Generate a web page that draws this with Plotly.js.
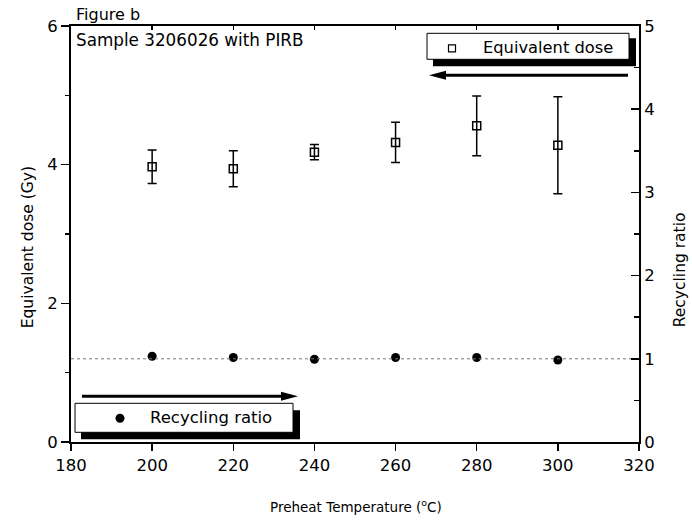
<!DOCTYPE html>
<html>
<head>
<meta charset="utf-8">
<script src="https://cdn.plot.ly/plotly-3.0.1.min.js"></script>
<style>html,body{margin:0;padding:0;background:#fff}#chart{width:692px;height:520px}</style>
</head>
<body>
<div id="chart"></div>
<script>
// ---- data ----
var temperatures = [200, 220, 240, 260, 280, 300];
var equivalentDose = [3.97, 3.94, 4.18, 4.32, 4.56, 4.28];
var doseError = [0.24, 0.26, 0.11, 0.29, 0.43, 0.70];
var recyclingRatio = [1.03, 1.015, 0.995, 1.015, 1.015, 0.985];
var referenceRatio = 1;
var xTicks = [180, 200, 220, 240, 260, 280, 300, 320];
var doseTicks = [0, 2, 4, 6];
var ratioTicks = [0, 1, 2, 3, 4, 5];

var FONT = 'DejaVu Sans, Verdana, sans-serif';
// pixel -> paper helpers for decorations
var L = 71, R = 639, T = 25.7, B = 441.7;
function PX(px) { return (px - L) / (R - L); }
function PY(py) { return (B - py) / (B - T); }
function tri(tipX, baseX, cy, half) {
  return 'M' + PX(tipX) + ',' + PY(cy) + ' L' + PX(baseX) + ',' + PY(cy - half) +
         ' L' + PX(baseX) + ',' + PY(cy + half) + ' Z';
}

var traces = [
  {
    x: temperatures, y: equivalentDose, type: 'scatter', mode: 'markers',
    xaxis: 'x', yaxis: 'y',
    marker: {symbol: 'square-open', size: 8, color: '#000', line: {width: 1.5, color: '#000'}},
    error_y: {type: 'data', array: doseError, visible: true, color: '#000', thickness: 1.5, width: 4.5},
    cliponaxis: false, showlegend: false
  },
  {
    x: temperatures, y: recyclingRatio, type: 'scatter', mode: 'markers',
    xaxis: 'x', yaxis: 'y2',
    marker: {symbol: 'circle', size: 9, color: '#000'},
    cliponaxis: false, showlegend: false
  },
  {
    x: [xTicks[0], xTicks[xTicks.length - 1]], y: [referenceRatio, referenceRatio],
    type: 'scatter', mode: 'lines', xaxis: 'x2', yaxis: 'y2',
    line: {color: '#777', width: 1, dash: 'dot'}, hoverinfo: 'skip', showlegend: false
  }
];

var shapes = [
  // Equivalent dose legend (shadow + box + marker)
  {type: 'rect', xref: 'paper', yref: 'paper', x0: PX(433), x1: PX(636), y0: PY(66), y1: PY(38), fillcolor: '#000', line: {width: 0}, layer: 'above'},
  {type: 'rect', xref: 'paper', yref: 'paper', x0: PX(427), x1: PX(629), y0: PY(59), y1: PY(33), fillcolor: '#fff', line: {width: 1, color: '#000'}, layer: 'above'},
  {type: 'rect', xref: 'paper', yref: 'paper', x0: PX(448.5), x1: PX(455.5), y0: PY(51.5), y1: PY(44.5), fillcolor: '#fff', line: {width: 1.2, color: '#000'}, layer: 'above'},
  // Recycling ratio legend
  {type: 'rect', xref: 'paper', yref: 'paper', x0: PX(81), x1: PX(300), y0: PY(439), y1: PY(410), fillcolor: '#000', line: {width: 0}, layer: 'above'},
  {type: 'rect', xref: 'paper', yref: 'paper', x0: PX(75), x1: PX(293), y0: PY(432), y1: PY(403), fillcolor: '#fff', line: {width: 1, color: '#000'}, layer: 'above'},
  {type: 'circle', xref: 'paper', yref: 'paper', x0: PX(115.5), x1: PX(124.5), y0: PY(422.5), y1: PY(413.5), fillcolor: '#000', line: {width: 0}, layer: 'above'},
  // arrows
  {type: 'line', xref: 'paper', yref: 'paper', x0: PX(628), x1: PX(442), y0: PY(75), y1: PY(75), line: {width: 3, color: '#000'}, layer: 'above'},
  {type: 'path', xref: 'paper', yref: 'paper', path: tri(429, 446, 75, 4.5), fillcolor: '#000', line: {width: 0}, layer: 'above'},
  {type: 'line', xref: 'paper', yref: 'paper', x0: PX(82), x1: PX(284), y0: PY(396), y1: PY(396), line: {width: 3, color: '#000'}, layer: 'above'},
  {type: 'path', xref: 'paper', yref: 'paper', path: tri(298, 281, 396, 4.5), fillcolor: '#000', line: {width: 0}, layer: 'above'}
];

var annotations = [
  {xref: 'paper', yref: 'paper', x: PX(74), y: PY(14), text: 'Figure b', showarrow: false, xanchor: 'left', yanchor: 'middle', font: {family: FONT, size: 16, color: '#000'}},
  {xref: 'paper', yref: 'paper', x: PX(74), y: PY(40), text: 'Sample 3206026 with PIRB', showarrow: false, xanchor: 'left', yanchor: 'middle', font: {family: FONT, size: 16.8, color: '#000'}},
  {xref: 'paper', yref: 'paper', x: PX(481), y: PY(47), text: 'Equivalent dose', showarrow: false, xanchor: 'left', yanchor: 'middle', font: {family: FONT, size: 16.3, color: '#000'}},
  {xref: 'paper', yref: 'paper', x: PX(148), y: PY(417), text: 'Recycling ratio', showarrow: false, xanchor: 'left', yanchor: 'middle', font: {family: FONT, size: 16.5, color: '#000'}},
  // axis titles
  {xref: 'paper', yref: 'paper', x: PX(28), y: PY(247), text: 'Equivalent dose (Gy)', textangle: -90, showarrow: false, xanchor: 'center', yanchor: 'middle', font: {family: FONT, size: 15.5, color: '#000'}},
  {xref: 'paper', yref: 'paper', x: PX(680), y: PY(270), text: 'Recycling ratio', textangle: -90, showarrow: false, xanchor: 'center', yanchor: 'middle', font: {family: FONT, size: 15.5, color: '#000'}},
  {xref: 'paper', yref: 'paper', x: PX(356), y: PY(506), text: 'Preheat Temperature (<sup>o</sup>C)', showarrow: false, xanchor: 'center', yanchor: 'middle', font: {family: FONT, size: 13.5, color: '#000'}}
];

var tickFont = {family: FONT, size: 16.5, color: '#000'};

var layout = {
  width: 692, height: 520,
  margin: {l: L, r: 692 - R, t: T, b: 520 - B, pad: 0},
  paper_bgcolor: '#fff', plot_bgcolor: '#fff',
  showlegend: false,
  xaxis: {
    range: [xTicks[0], xTicks[xTicks.length - 1]], tickvals: xTicks, ticktext: xTicks.map(String),
    ticks: 'outside', ticklen: 7, tickwidth: 1.5, tickcolor: '#000',
    showline: true, linecolor: '#000', linewidth: 2, showgrid: false, zeroline: false,
    tickfont: tickFont, fixedrange: true
  },
  xaxis2: {
    overlaying: 'x', side: 'top', matches: 'x',
    range: [xTicks[0], xTicks[xTicks.length - 1]], tickvals: xTicks,
    ticks: 'inside', ticklen: 4, tickwidth: 1.5, tickcolor: '#000', showticklabels: false,
    showline: true, linecolor: '#000', linewidth: 2, showgrid: false, zeroline: false
  },
  yaxis: {
    range: [doseTicks[0], doseTicks[doseTicks.length - 1]], tickvals: doseTicks, ticktext: doseTicks.map(String),
    ticks: 'outside', ticklen: 8, tickwidth: 1.5, tickcolor: '#000',
    minor: {dtick: 1, ticks: 'outside', ticklen: 4, tickwidth: 1.5, tickcolor: '#000', showgrid: false},
    showline: true, linecolor: '#000', linewidth: 2, showgrid: false, zeroline: false,
    tickfont: tickFont, fixedrange: true
  },
  yaxis2: {
    overlaying: 'y', side: 'right',
    range: [ratioTicks[0], ratioTicks[ratioTicks.length - 1]], tickvals: ratioTicks, ticktext: ratioTicks.map(String),
    ticks: 'inside', ticklen: 8, tickwidth: 1.5, tickcolor: '#000',
    minor: {dtick: 0.5, ticks: 'inside', ticklen: 5, tickwidth: 1.5, tickcolor: '#000', showgrid: false},
    showline: true, linecolor: '#000', linewidth: 2, showgrid: false, zeroline: false,
    tickfont: tickFont, fixedrange: true
  },
  shapes: shapes,
  annotations: annotations
};

Plotly.newPlot('chart', traces, layout, {staticPlot: true, displayModeBar: false});
</script>
</body>
</html>
